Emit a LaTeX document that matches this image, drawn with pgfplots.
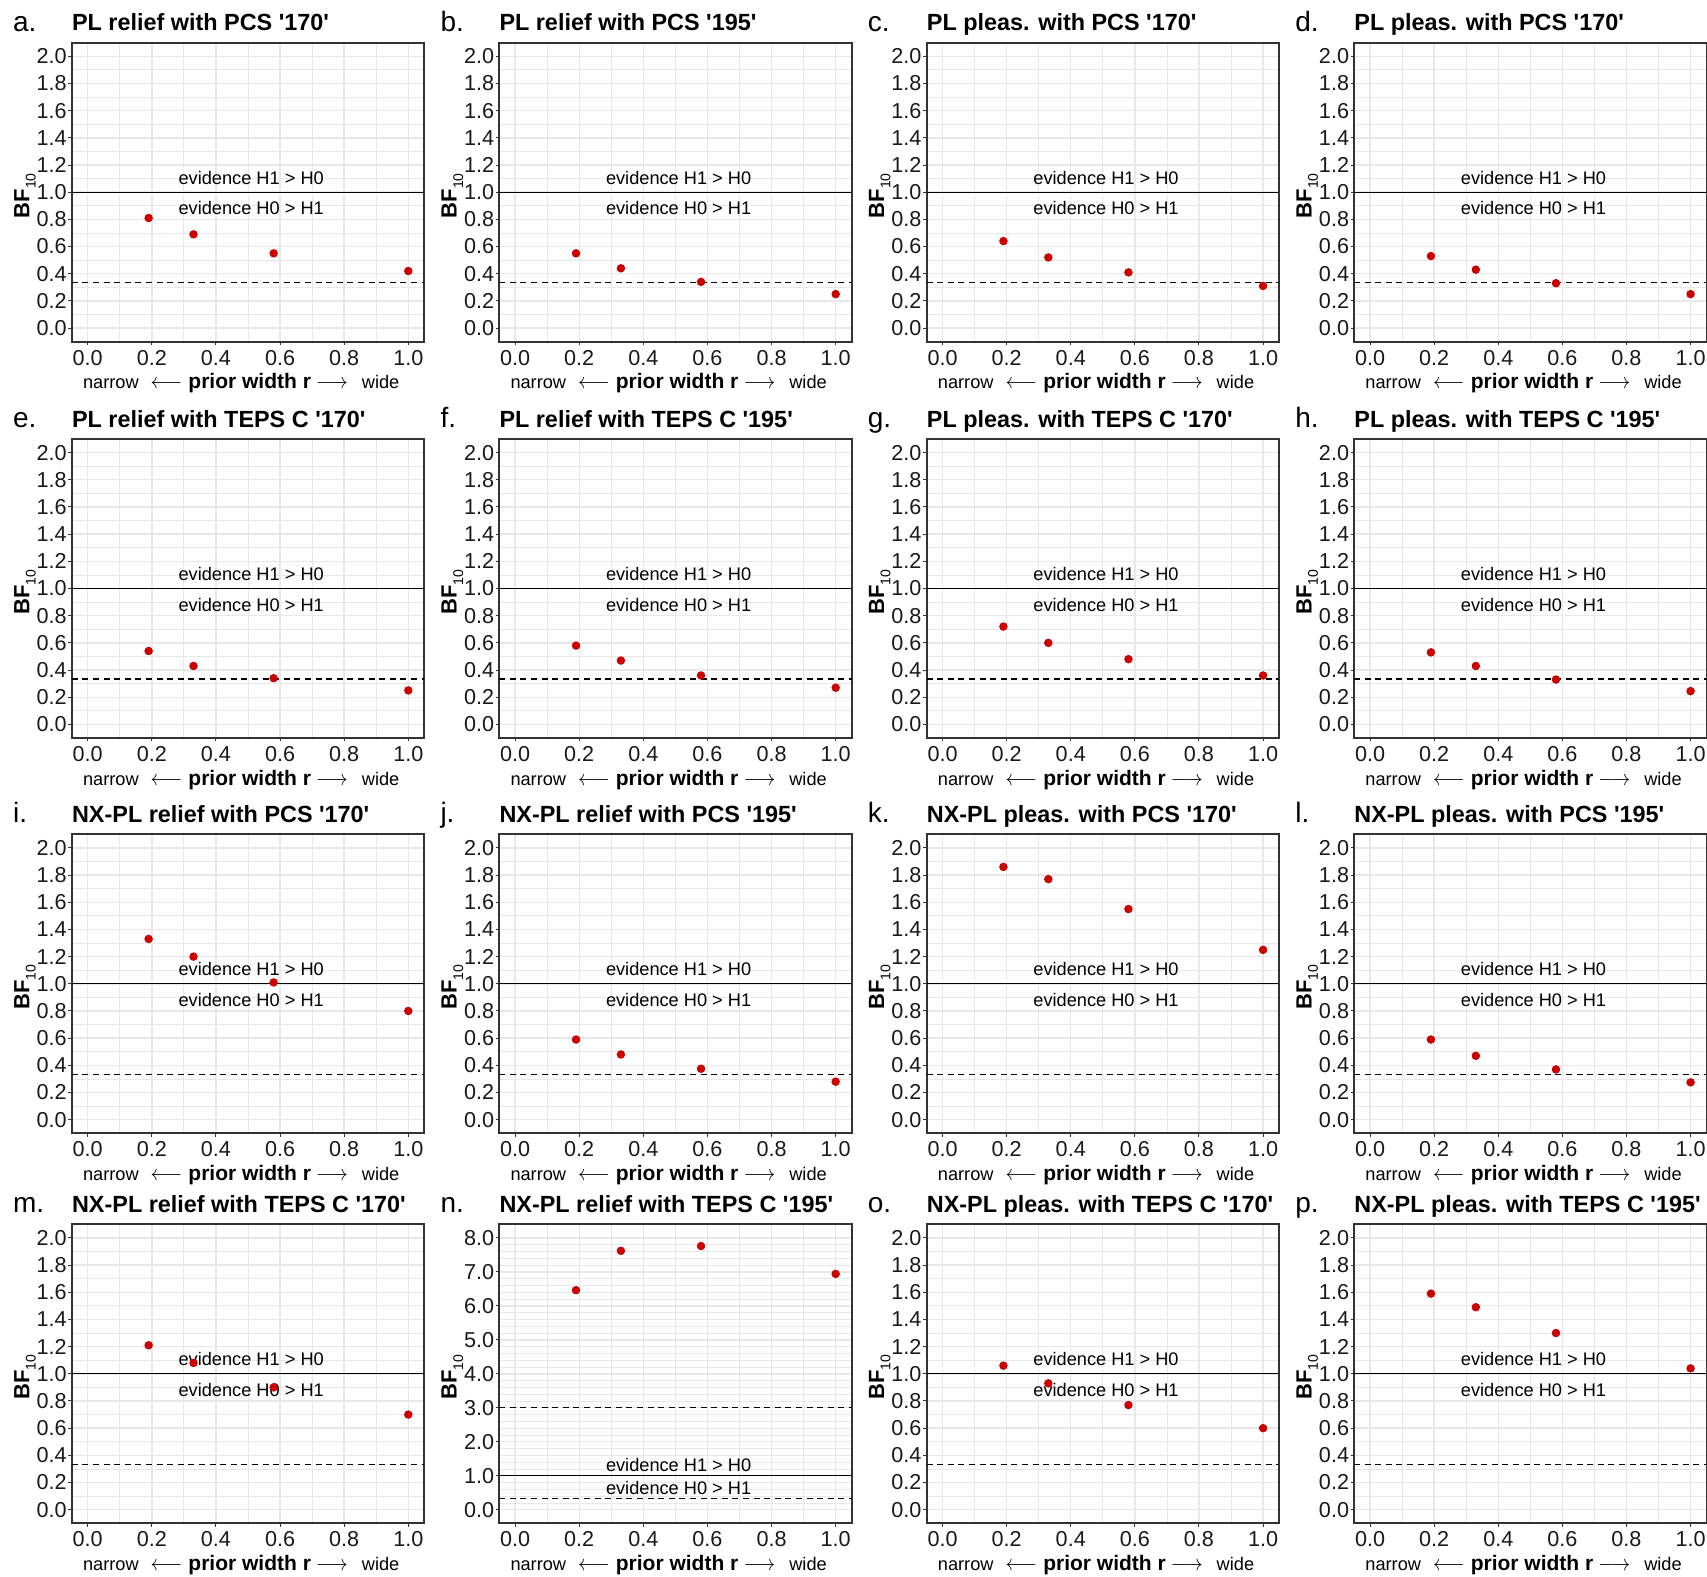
\documentclass[border=0pt]{standalone}
\usepackage{pgfplots}
\pgfplotsset{compat=1.18}
\usepackage{fontspec}
\setmainfont{Liberation Sans}[Ligatures=TeXOff]
\definecolor{dotred}{RGB}{204,0,0}
\definecolor{frame}{RGB}{51,51,51}
\definecolor{gridc}{RGB}{232,232,232}

\pgfplotsset{
  std/.style={
    scale only axis, width=176.3pt, height=149.5pt, anchor=north west,
    xmin=-0.05, xmax=1.05, ymin=-0.1, ymax=2.1,
    xtick={0,0.2,0.4,0.6,0.8,1.0},
    ytick={0,0.2,0.4,0.6,0.8,1.0,1.2,1.4,1.6,1.8,2.0},
    minor x tick num=1, minor y tick num=1,
    grid=both,
    major grid style={color=gridc, line width=0.7pt},
    minor grid style={color=gridc, line width=0.4pt},
    tick pos=left, tick align=outside,
    major tick length=1.7pt, minor tick length=0pt,
    tick style={color=frame, line width=0.5pt},
    axis line style={color=frame, line width=1pt},
    clip=false,
    xticklabel style={font=\fontsize{10.8}{10.8}\selectfont, text=black!90, inner sep=0pt, anchor=north, yshift=-2.3pt},
    yticklabel style={font=\fontsize{10.8}{10.8}\selectfont, text=black!90, inner sep=0pt, anchor=east, xshift=-0.6pt},
    /pgf/number format/fixed, /pgf/number format/fixed zerofill,
    /pgf/number format/precision=1, /pgf/number format/assume math mode=true,
  },
  refline/.style={black, line width=0.65pt, forget plot},
  dashline/.style={black, line width=0.65pt, dash pattern=on 3pt off 2.3pt, forget plot},
  dot/.style={only marks, mark=*, mark size=1.9pt, color=dotred},
}

\newcommand{\larr}{{\fontsize{11}{11}\selectfont\scalebox{0.9}[1]{$\longleftarrow$}}}
\newcommand{\rarr}{{\fontsize{11}{11}\selectfont\scalebox{0.9}[1]{$\longrightarrow$}}}
\newcommand{\deco}[2]{%
  \node[anchor=base west, inner sep=0pt, font=\fontsize{14}{14}\selectfont] at ([xshift=-29.5pt, yshift=5.7pt]rel axis cs:0,1) {#1};
  \node[anchor=base west, inner sep=0pt, font=\fontsize{11.7}{11.7}\selectfont\bfseries] at ([yshift=5.85pt]rel axis cs:0,1) {#2};
  \node[anchor=base west, inner sep=0pt, font=\fontsize{9.1}{9.1}\selectfont] at ([xshift=5.5pt, yshift=-23.65pt]rel axis cs:0,0) {narrow\hspace{6.0pt}\larr\hspace{3.0pt}{\fontsize{10.5}{10.5}\selectfont\bfseries prior width r}\hspace{2.6pt}\rarr\hspace{7.0pt}wide};
  \node[rotate=90, anchor=base, inner sep=0pt] at ([xshift=-21.2pt, yshift=-1.8pt]rel axis cs:0,0.5) {{\fontsize{11}{11}\selectfont\bfseries BF}\raisebox{-0.6ex}{\fontsize{7}{7}\selectfont 10}};
}
\newcommand{\evid}{%
  \node[anchor=base, inner sep=0pt, font=\fontsize{9.1}{9.1}\selectfont] at (axis cs:0.51,1.06) {evidence H1 > H0};
  \node[anchor=base, inner sep=0pt, font=\fontsize{9.1}{9.1}\selectfont] at (axis cs:0.51,0.834) {evidence H0 > H1};
}

\begin{document}
\begin{tikzpicture}
\path[use as bounding box] (0,0) rectangle (853.5pt,-788.5pt);

% ---------- row 1 ----------
\begin{axis}[std, at={(35.85pt,-21.35pt)}]
\addplot[refline] coordinates {(-0.05,1) (1.05,1)};
\addplot[dashline] coordinates {(-0.05,0.3333) (1.05,0.3333)};
\evid \deco{a.}{PL relief with PCS '170'}
\addplot[dot] coordinates {(0.19,0.81) (0.33,0.69) (0.58,0.55) (1.0,0.42)};
\end{axis}

\begin{axis}[std, at={(249.55pt,-21.35pt)}]
\addplot[refline] coordinates {(-0.05,1) (1.05,1)};
\addplot[dashline] coordinates {(-0.05,0.3333) (1.05,0.3333)};
\evid \deco{b.}{PL relief with PCS '195'}
\addplot[dot] coordinates {(0.19,0.55) (0.33,0.44) (0.58,0.34) (1.0,0.25)};
\end{axis}

\begin{axis}[std, at={(463.25pt,-21.35pt)}]
\addplot[refline] coordinates {(-0.05,1) (1.05,1)};
\addplot[dashline] coordinates {(-0.05,0.3333) (1.05,0.3333)};
\evid \deco{c.}{PL pleas. with PCS '170'}
\addplot[dot] coordinates {(0.19,0.64) (0.33,0.52) (0.58,0.41) (1.0,0.31)};
\end{axis}

\begin{axis}[std, at={(677.0pt,-21.35pt)}]
\addplot[refline] coordinates {(-0.05,1) (1.05,1)};
\addplot[dashline] coordinates {(-0.05,0.3333) (1.05,0.3333)};
\evid \deco{d.}{PL pleas. with PCS '170'}
\addplot[dot] coordinates {(0.19,0.53) (0.33,0.43) (0.58,0.33) (1.0,0.25)};
\end{axis}

% ---------- row 2 ----------
\begin{axis}[std, at={(35.85pt,-219.5pt)}]
\addplot[refline] coordinates {(-0.05,1) (1.05,1)};
\addplot[dashline] coordinates {(-0.05,0.3333) (1.05,0.3333)};
\evid \deco{e.}{PL relief with TEPS C '170'}
\addplot[dot] coordinates {(0.19,0.54) (0.33,0.43) (0.58,0.34) (1.0,0.25)};
\end{axis}

\begin{axis}[std, at={(249.55pt,-219.5pt)}]
\addplot[refline] coordinates {(-0.05,1) (1.05,1)};
\addplot[dashline] coordinates {(-0.05,0.3333) (1.05,0.3333)};
\evid \deco{f.}{PL relief with TEPS C '195'}
\addplot[dot] coordinates {(0.19,0.58) (0.33,0.47) (0.58,0.36) (1.0,0.27)};
\end{axis}

\begin{axis}[std, at={(463.25pt,-219.5pt)}]
\addplot[refline] coordinates {(-0.05,1) (1.05,1)};
\addplot[dashline] coordinates {(-0.05,0.3333) (1.05,0.3333)};
\evid \deco{g.}{PL pleas. with TEPS C '170'}
\addplot[dot] coordinates {(0.19,0.72) (0.33,0.60) (0.58,0.48) (1.0,0.36)};
\end{axis}

\begin{axis}[std, at={(677.0pt,-219.5pt)}]
\addplot[refline] coordinates {(-0.05,1) (1.05,1)};
\addplot[dashline] coordinates {(-0.05,0.3333) (1.05,0.3333)};
\evid \deco{h.}{PL pleas. with TEPS C '195'}
\addplot[dot] coordinates {(0.19,0.53) (0.33,0.43) (0.58,0.33) (1.0,0.245)};
\end{axis}

% ---------- row 3 ----------
\begin{axis}[std, at={(35.85pt,-417.15pt)}]
\addplot[refline] coordinates {(-0.05,1) (1.05,1)};
\addplot[dashline] coordinates {(-0.05,0.3333) (1.05,0.3333)};
\evid \deco{i.}{NX-PL relief with PCS '170'}
\addplot[dot] coordinates {(0.19,1.33) (0.33,1.20) (0.58,1.01) (1.0,0.80)};
\end{axis}

\begin{axis}[std, at={(249.55pt,-417.15pt)}]
\addplot[refline] coordinates {(-0.05,1) (1.05,1)};
\addplot[dashline] coordinates {(-0.05,0.3333) (1.05,0.3333)};
\evid \deco{j.}{NX-PL relief with PCS '195'}
\addplot[dot] coordinates {(0.19,0.59) (0.33,0.48) (0.58,0.375) (1.0,0.28)};
\end{axis}

\begin{axis}[std, at={(463.25pt,-417.15pt)}]
\addplot[refline] coordinates {(-0.05,1) (1.05,1)};
\addplot[dashline] coordinates {(-0.05,0.3333) (1.05,0.3333)};
\evid \deco{k.}{NX-PL pleas. with PCS '170'}
\addplot[dot] coordinates {(0.19,1.86) (0.33,1.77) (0.58,1.55) (1.0,1.25)};
\end{axis}

\begin{axis}[std, at={(677.0pt,-417.15pt)}]
\addplot[refline] coordinates {(-0.05,1) (1.05,1)};
\addplot[dashline] coordinates {(-0.05,0.3333) (1.05,0.3333)};
\evid \deco{l.}{NX-PL pleas. with PCS '195'}
\addplot[dot] coordinates {(0.19,0.59) (0.33,0.47) (0.58,0.37) (1.0,0.275)};
\end{axis}

% ---------- row 4 ----------
\begin{axis}[std, at={(35.85pt,-612.15pt)}]
\addplot[refline] coordinates {(-0.05,1) (1.05,1)};
\addplot[dashline] coordinates {(-0.05,0.3333) (1.05,0.3333)};
\evid \deco{m.}{NX-PL relief with TEPS C '170'}
\addplot[dot] coordinates {(0.19,1.21) (0.33,1.08) (0.58,0.90) (1.0,0.70)};
\end{axis}

\begin{axis}[std, at={(249.55pt,-612.15pt)}, ymin=-0.4, ymax=8.4, ytick={0,1,2,3,4,5,6,7,8}, minor y tick num=4]
\addplot[refline] coordinates {(-0.05,1) (1.05,1)};
\addplot[dashline] coordinates {(-0.05,3) (1.05,3)};
\addplot[dashline] coordinates {(-0.05,0.3333) (1.05,0.3333)};
\node[anchor=base, inner sep=0pt, font=\fontsize{9.1}{9.1}\selectfont] at (axis cs:0.51,1.116) {evidence H1 > H0};
\node[anchor=base, inner sep=0pt, font=\fontsize{9.1}{9.1}\selectfont] at (axis cs:0.51,0.461) {evidence H0 > H1};
\deco{n.}{NX-PL relief with TEPS C '195'}
\addplot[dot] coordinates {(0.19,6.46) (0.33,7.62) (0.58,7.76) (1.0,6.94)};
\end{axis}

\begin{axis}[std, at={(463.25pt,-612.15pt)}]
\addplot[refline] coordinates {(-0.05,1) (1.05,1)};
\addplot[dashline] coordinates {(-0.05,0.3333) (1.05,0.3333)};
\evid \deco{o.}{NX-PL pleas. with TEPS C '170'}
\addplot[dot] coordinates {(0.19,1.06) (0.33,0.93) (0.58,0.77) (1.0,0.60)};
\end{axis}

\begin{axis}[std, at={(677.0pt,-612.15pt)}]
\addplot[refline] coordinates {(-0.05,1) (1.05,1)};
\addplot[dashline] coordinates {(-0.05,0.3333) (1.05,0.3333)};
\evid \deco{p.}{NX-PL pleas. with TEPS C '195'}
\addplot[dot] coordinates {(0.19,1.59) (0.33,1.49) (0.58,1.30) (1.0,1.04)};
\end{axis}

\end{tikzpicture}
\end{document}
